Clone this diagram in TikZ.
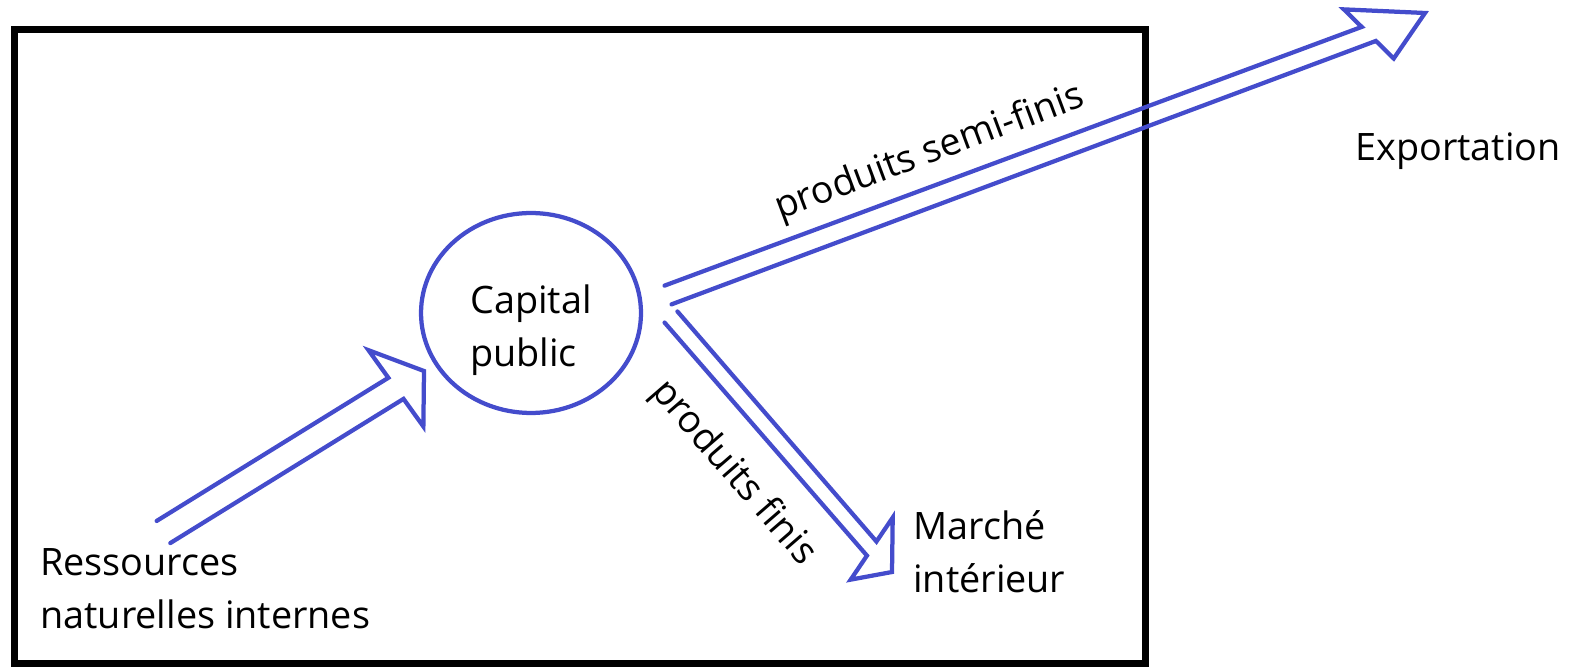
\documentclass[tikz,border=0pt]{standalone}
\usepackage{fontspec}
\setmainfont{Open Sans}
\usetikzlibrary{calc,shapes.geometric}
\definecolor{flowblue}{RGB}{68,76,204}

% open block arrow: tail, tip, shaft half width, head half width, head length, skew
\newcommand\flowarrow[6]{%
  \pgfmathsetmacro\angL{90+#6}%
  \pgfmathsetmacro\angR{-90+#6}%
  \draw[flow] ($(#1)!#3!90:(#2)$)
    -- ($(#2)!#5!(#1)!#3!\angL:(#2)$)
    -- ($(#2)!#5!(#1)!#4!\angL:(#2)$)
    -- (#2)
    -- ($(#2)!#5!(#1)!#4!\angR:(#2)$)
    -- ($(#2)!#5!(#1)!#3!\angR:(#2)$)
    -- ($(#1)!#3!-90:(#2)$);
}

\begin{document}
\begin{tikzpicture}[x=0.02cm,y=-0.02cm,
    flow/.style={draw=flowblue, line width=0.085cm, line join=miter, line cap=round},
    frame/.style={draw=black, line width=0.14cm},
    txt/.style={font=\fontsize{21.5pt}{30pt}\selectfont, inner sep=0pt, align=left},
    hub/.style={ellipse, draw=flowblue, line width=0.085cm, minimum width=4.4cm, minimum height=4cm, inner sep=0pt}]

  \useasboundingbox (0,0) rectangle (1585,668);
  % frame
  \draw[frame] (14.5,29.5) rectangle (1145,663);

  % nodes
  \node[hub, label={[txt, yshift=-0.34cm]center:Capital\\public}] (cap) at (531,313) {};
  \node[txt, anchor=base west] (res) at (40,628) {Ressources\\naturelles internes};
  \node[txt, anchor=base west] (exp) at (1355,161) {Exportation};
  \node[txt, anchor=base west] (mar) at (913,592) {Marché\\intérieur};

  % arrow ends
  \coordinate (res-out) at (163.5,532);
  \coordinate (cap-in) at (424,371);
  \coordinate (cap-exp) at (668,295);
  \coordinate (exp-in) at (1425,13);
  \coordinate (cap-mar) at (671,317);
  \coordinate (mar-in) at (892,572);

  % flows
  \flowarrow{res-out}{cap-in}{0.26cm}{0.94cm}{0.66cm}{4}
  \flowarrow{cap-exp}{exp-in}{0.2cm}{0.7cm}{1.2cm}{25}
  \flowarrow{cap-mar}{mar-in}{0.17cm}{0.75cm}{0.62cm}{15}

  % flow labels
  \path (cap-exp) -- node[txt, pos=0.365, sloped, above=0.44cm] (semi) {produits semi-finis} (exp-in);
  \path (cap-mar) -- node[txt, pos=0.47, sloped, below=0.72cm] (finis) {produits finis} (mar-in);
\end{tikzpicture}
\end{document}
